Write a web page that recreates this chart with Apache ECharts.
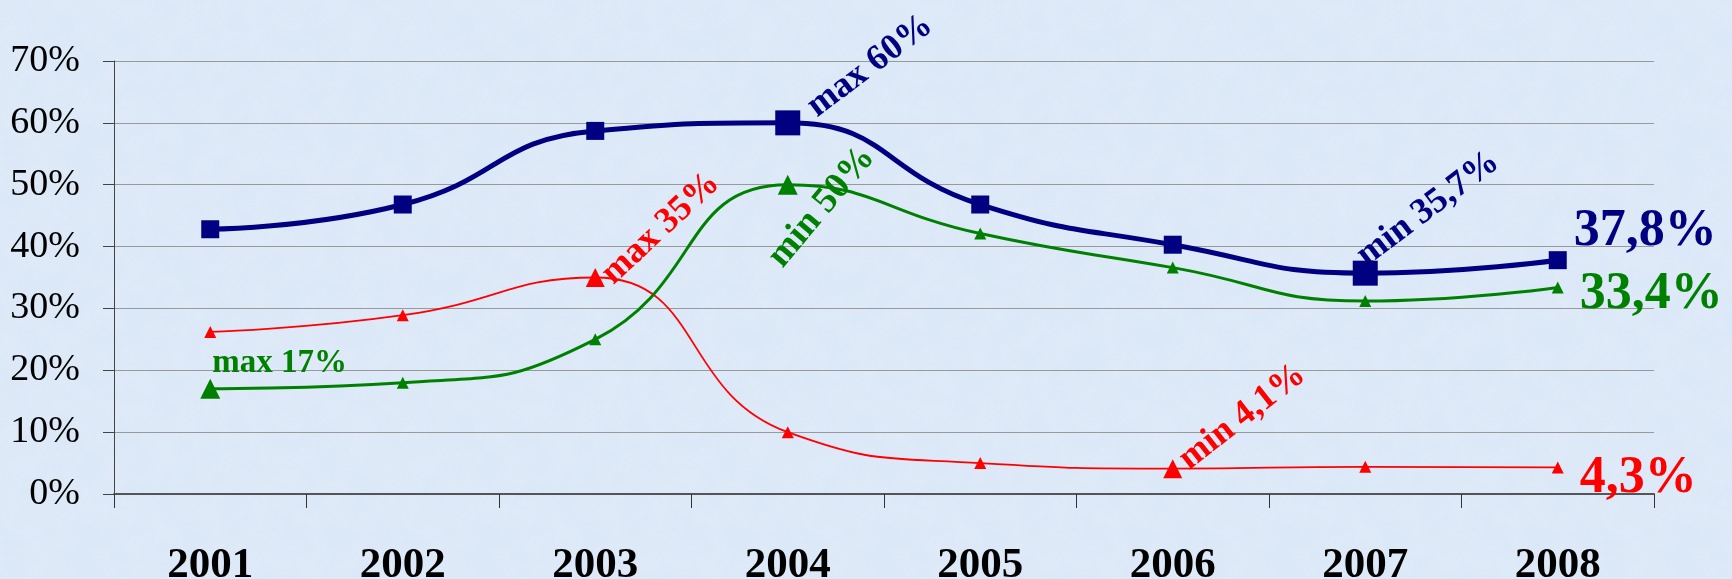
<!DOCTYPE html>
<html>
<head>
<meta charset="utf-8">
<script src="https://cdn.jsdelivr.net/npm/echarts@6/dist/echarts.min.js"></script>
<style>
html,body{margin:0;padding:0;width:1732px;height:579px;overflow:hidden;background-color:#dbe8f7;}
body{background-image:url("data:image/svg+xml;utf8,<svg xmlns='http://www.w3.org/2000/svg' width='400' height='400'><filter id='n'><feTurbulence type='fractalNoise' baseFrequency='0.04' numOctaves='4' seed='3'/><feColorMatrix values='0 0 0 0 0.80  0 0 0 0 0.86  0 0 0 0 0.96  0 0 0 1.2 -0.3'/></filter><rect width='400' height='400' filter='url(%23n)' opacity='0.5'/></svg>");}
#chart{width:1732px;height:579px;}
</style>
</head>
<body>
<div id="chart"></div>
<script>
// ---- data ----
const years = ['2001', '2002', '2003', '2004', '2005', '2006', '2007', '2008'];
const yTickValues = [0, 10, 20, 30, 40, 50, 60, 70];
const blueValues  = [42.8, 46.8, 58.7, 60.0, 46.8, 40.3, 35.7, 37.8];
const greenValues = [17.0, 18.0, 25.0, 50.0, 42.1, 36.6, 31.2, 33.4];
const redValues   = [26.2, 28.9, 35.0, 10.0, 5.0, 4.1, 4.4, 4.3];
const blueNotes  = ['', '', '', 'max 60%', '', '', 'min 35,7%', '37,8%'];
const greenNotes = ['max 17%', '', '', 'min 50%', '', '', '', '33,4%'];
const redNotes   = ['', '', 'max 35%', '', '', 'min 4,1%', '', '4,3%'];

// ---- styles ----
const FONT = "'Liberation Serif', 'Times New Roman', serif";
const NAVY = '#000080', GREEN = '#008000', RED = '#ff0000';

// label placement: dx, dy = screen offset of text start (baseline) from marker centre; rot in degrees
const blueLabelStyle = {
  3: {dx: 31, dy: -3, rot: 37, size: 36},
  6: {dx: 3, dy: -4, rot: 37, size: 36},
  7: {dx: 16, dy: -29, rot: 0, size: 52, mid: true}
};
const greenLabelStyle = {
  0: {dx: 2, dy: -25, rot: 0, size: 33, mid: true},
  3: {dx: -3, dy: 86, rot: 50, size: 37},
  7: {dx: 22, dy: 7, rot: 0, size: 52, mid: true}
};
const redLabelStyle = {
  2: {dx: 20, dy: 10, rot: 43, size: 36},
  5: {dx: 18, dy: 4, rot: 38, size: 36},
  7: {dx: 22, dy: 11, rot: 0, size: 52, mid: true}
};

function labelFor(note, st, color) {
  let off;
  if (st.mid) {
    off = [st.dx, st.dy];
  } else {
    const t = st.rot * Math.PI / 180, c = Math.cos(t), s = Math.sin(t);
    const a = st.dx * c - st.dy * s;
    const b = st.dx * s + st.dy * c - 0.34 * st.size;
    off = [a, b];
  }
  return {
    show: true,
    formatter: note,
    position: 'inside',
    align: 'left',
    verticalAlign: 'middle',
    rotate: st.rot,
    offset: off,
    color: color,
    fontFamily: FONT,
    fontWeight: 'bold',
    fontSize: st.size
  };
}

function buildData(values, notes, styleMap, bigSize, color) {
  return values.map((v, i) => {
    const item = {value: v};
    const note = notes[i];
    if (note) {
      if (/^(max|min)/.test(note)) item.symbolSize = bigSize;
      item.label = labelFor(note, styleMap[i], color);
    }
    return item;
  });
}

const chart = echarts.init(document.getElementById('chart'), null, {renderer: 'canvas'});
chart.setOption({
  backgroundColor: 'transparent',
  animation: false,
  grid: {left: 114, right: 78, top: 61, bottom: 85, containLabel: false, outerBoundsMode: 'none'},
  xAxis: {
    type: 'category',
    data: years,
    boundaryGap: true,
    axisLine: {show: true, lineStyle: {color: '#555', width: 2}},
    axisTick: {show: true, length: 14, alignWithLabel: false, lineStyle: {color: '#333', width: 1}},
    axisLabel: {color: '#000', fontFamily: FONT, fontWeight: 'bold', fontSize: 43, margin: 50},
    splitLine: {show: false}
  },
  yAxis: {
    type: 'value',
    min: yTickValues[0],
    max: yTickValues[yTickValues.length - 1],
    interval: 10,
    axisLine: {show: true, lineStyle: {color: '#444', width: 1}},
    axisTick: {show: true, length: 11, lineStyle: {color: '#444'}},
    axisLabel: {color: '#000', fontFamily: FONT, fontSize: 38, margin: 34, padding: [4, 0, 0, 0], formatter: '{value}%'},
    splitLine: {show: true, lineStyle: {color: '#999', width: 1}}
  },
  series: [
    {
      type: 'line', name: 'red', smooth: 0.5,
      data: buildData(redValues, redNotes, redLabelStyle, 19, RED),
      symbol: 'triangle', symbolSize: 12, showAllSymbol: true,
      itemStyle: {color: RED},
      lineStyle: {color: RED, width: 1.8},
      label: {show: false}, z: 2
    },
    {
      type: 'line', name: 'green', smooth: 0.5,
      data: buildData(greenValues, greenNotes, greenLabelStyle, 20, GREEN),
      symbol: 'triangle', symbolSize: 12, showAllSymbol: true,
      itemStyle: {color: GREEN},
      lineStyle: {color: GREEN, width: 3},
      label: {show: false}, z: 3
    },
    {
      type: 'line', name: 'blue', smooth: 0.5,
      data: buildData(blueValues, blueNotes, blueLabelStyle, 25, NAVY),
      symbol: 'rect', symbolSize: 18, showAllSymbol: true,
      itemStyle: {color: NAVY},
      lineStyle: {color: NAVY, width: 5},
      label: {show: false}, z: 4
    }
  ]
});
</script>
</body>
</html>
